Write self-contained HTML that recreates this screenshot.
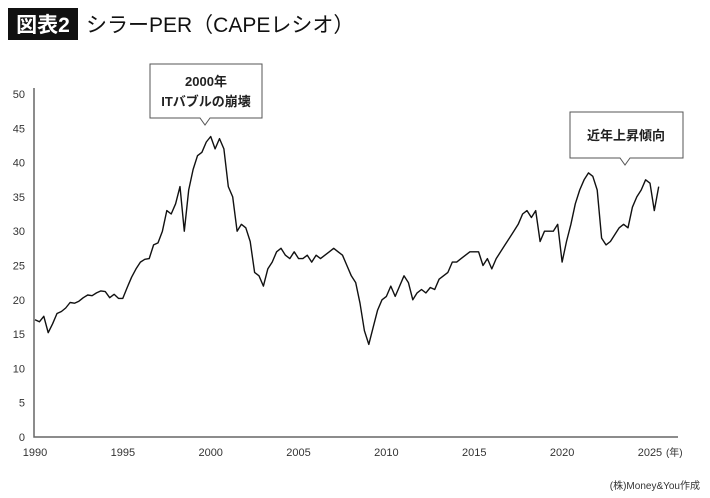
<!DOCTYPE html>
<html><head><meta charset="utf-8"><style>
body{margin:0;background:#fff;}
svg{display:block;font-family:"Liberation Sans","Noto Sans CJK JP",sans-serif;}
</style></head><body>
<svg id="c" width="710" height="498" viewBox="0 0 710 498">
<rect x="8" y="8" width="70" height="32" fill="#111"/>
<text x="43" y="32" fill="#fff" font-size="21" font-weight="bold" text-anchor="middle">図表2</text>
<text x="86" y="32" fill="#111" font-size="21">シラーPER（CAPEレシオ）</text>
<g id="axes"></g>
<path id="line" fill="none" stroke="#111" stroke-width="1.4" stroke-linejoin="round"/>
<g>
<path d="M150,64 H262 V118 H210 L205,125 L200,118 H150 Z" fill="#fff" stroke="#555" stroke-width="1"/>
<text x="206" y="86" font-size="13" font-weight="bold" text-anchor="middle" fill="#222">2000年</text>
<text x="206" y="106" font-size="13" font-weight="bold" text-anchor="middle" fill="#222">ITバブルの崩壊</text>
</g>
<g>
<path d="M570,112 H683 V158 H630 L625,165 L620,158 H570 Z" fill="#fff" stroke="#555" stroke-width="1"/>
<text x="626" y="140" font-size="13" font-weight="bold" text-anchor="middle" fill="#222">近年上昇傾向</text>
</g>
<text x="700" y="489" font-size="10" text-anchor="end" fill="#333">(株)Money&amp;You作成</text>
</svg>
<script>
const years=[1990,1995,2000,2005,2010,2015,2020,2025];
const yTicks=[0,5,10,15,20,25,30,35,40,45,50];
const startYear=1990;
const cape=[17.1,16.8,17.6,15.2,16.5,18.0,18.3,18.8,19.6,19.5,19.8,20.3,20.7,20.6,21.0,21.3,21.2,20.3,20.8,20.2,
20.2,21.8,23.3,24.5,25.5,25.9,26.0,28.0,28.3,30.0,33.0,32.5,34.0,36.5,30.0,36.0,39.0,41.0,41.5,43.0,
43.8,42.0,43.5,42.0,36.5,35.0,30.0,31.0,30.5,28.5,24.0,23.5,22.0,24.5,25.5,27.0,27.5,26.5,26.0,27.0,
26.0,26.0,26.5,25.5,26.5,26.0,26.5,27.0,27.5,27.0,26.5,25.0,23.5,22.5,19.5,15.5,13.5,16.0,18.5,20.0,
20.5,22.0,20.5,22.0,23.5,22.5,20.0,21.0,21.5,21.0,21.8,21.5,23.0,23.5,24.0,25.5,25.5,26.0,26.5,27.0,
27.0,27.0,25.0,26.0,24.5,26.0,27.0,28.0,29.0,30.0,31.0,32.5,33.0,32.0,33.0,28.5,30.0,30.0,30.0,31.0,
25.5,28.5,31.0,34.0,36.0,37.5,38.5,38.0,36.0,29.0,28.0,28.5,29.5,30.5,31.0,30.5,33.5,35.0,36.0,37.5,
37.0,33.0,36.5];
const X0=35,PXY=17.57,Y0=437,PXV=6.86;
const xs=t=>X0+(t-1990)*PXY, ys=v=>Y0-v*PXV;
const NS='http://www.w3.org/2000/svg';
const g=document.getElementById('axes');
function mk(tag,attrs,txt){const e=document.createElementNS(NS,tag);for(const k in attrs)e.setAttribute(k,attrs[k]);if(txt!==undefined)e.textContent=txt;g.appendChild(e);return e;}
let ax=mk('path',{d:`M34,88 V${Y0} H678`,fill:'none',stroke:'#666','stroke-width':1.5});


yTicks.forEach(v=>{const t=mk('text',{x:25,y:ys(v)+4,'font-size':11,'text-anchor':'end',fill:'#333'},String(v));

});
years.forEach(y=>{const t=mk('text',{x:xs(y),y:456,'font-size':11,'text-anchor':'middle',fill:'#333'},String(y));

});
const u=mk('text',{x:xs(2025)+16,y:456,'font-size':10,fill:'#333'},'(年)');


let d='';cape.forEach((v,i)=>{const t=startYear+i*0.25;d+=(i?'L':'M')+xs(t).toFixed(1)+','+ys(v).toFixed(1);});
document.getElementById('line').setAttribute('d',d);
</script>
</body></html>
